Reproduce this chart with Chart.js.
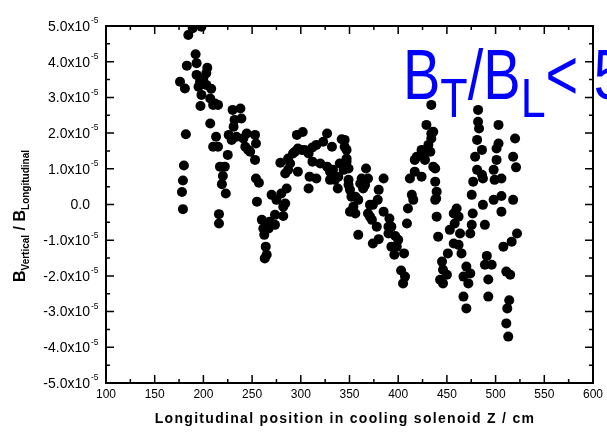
<!DOCTYPE html>
<html>
<head>
<meta charset="utf-8">
<script src="https://cdn.jsdelivr.net/npm/chart.js@4/dist/chart.umd.min.js"></script>
<style>
  html, body { margin: 0; padding: 0; background: #fff; }
  #wrap { width: 607px; height: 433px; }
</style>
</head>
<body>
<div id="wrap"><canvas id="chart" width="607" height="433"></canvas></div>
<script>
// Longitudinal position Z (cm)
const positionZ = [
  176, 181, 183, 184.5, 182, 180, 179, 178, 179,
  189, 198, 192, 193, 204, 193, 196.5, 200, 203, 195, 203, 208, 198, 207, 212, 215, 197, 210, 207, 213, 210,
  215, 230, 238, 232, 239, 231, 226, 229, 234, 241, 244.5, 253, 243, 248, 254, 253, 225, 217, 222, 220, 219, 223, 216, 216, 254, 257, 255, 246,
  260, 261.5, 262.5, 264, 265, 263,
  270, 275, 280, 285.5, 284, 282, 273.5, 282, 268, 267, 273.5,
  279, 284, 289, 292, 297, 287, 296, 301, 308, 308, 309, 287, 297, 302, 294,
  304, 312, 316, 323, 327, 332, 342, 345, 312, 316, 320, 327, 330, 335, 330, 338, 344, 333, 347, 340, 349, 350.5, 347, 349, 338.5,
  345, 347, 349, 350.5, 352, 354, 356, 356, 359, 359, 362.5, 366,
  367, 369, 361, 364, 385, 380, 379, 371, 374, 369, 385, 373, 378, 391, 390, 393, 371, 374, 380, 390, 397, 400, 393, 396, 406, 403, 407, 405, 398.5,
  434, 429, 434, 431, 424, 419, 427.5, 417, 436, 417, 412, 424, 438, 439.5, 438, 414, 415.5, 410, 409, 439.5, 441, 426, 433, 436, 434, 438, 439,
  460, 457, 462, 458, 453, 463.5, 457, 462, 465, 451, 445, 446, 450, 443, 446, 470, 474, 467, 472, 467, 470,
  482, 482, 483, 481, 486, 479, 481, 486, 487, 477, 475.5, 487, 476.5, 475.5, 474, 489, 503, 503, 501, 501, 498, 499, 506, 498, 506, 506,
  520, 518, 521, 518, 522, 516.5, 508, 491, 489, 496, 492.5, 492.5, 511, 515, 514, 512, 511, 513
]

// B_vertical / B_longitudinal, in units of 1e-5
const fieldRatio = [
  3.44, 3.25, 3.89, 4.75, 1.97, 1.09, 0.67, 0.35, -0.13,
  4.94, 4.98, 4.21, 3.96, 3.83, 3.63, 3.44, 3.54, 3.68, 3.30, 3.35, 3.24, 3.07, 2.97, 2.83, 2.79, 2.76, 2.79, 2.27, 1.90, 1.62,
  1.62, 2.65, 2.69, 2.37, 2.41, 2.18, 1.95, 1.81, 1.90, 1.85, 1.99, 1.95, 1.62, 1.48, 1.71, 1.25, 1.39, 1.06, 1.06, 0.80, 0.57, 0.31, -0.27, -0.53, 0.73, 0.61, 0.08, 1.53,
  -0.43, -0.67, -0.85, -1.18, -1.41, -1.51,
  0.27, 0.13, 0.31, 0.45, 0.03, -0.06, -0.29, -0.32, -0.48, -0.67, -0.57,
  1.17, 0.87, 1.15, 1.43, 0.92, 1.29, 1.95, 1.53, 1.43, 0.45, 0.78, 0.97, 1.57, 2.03, 1.48,
  1.53, 1.60, 1.67, 1.76, 1.99, 1.62, 1.83, 1.62, 1.20, 0.73, 1.15, 1.06, 0.92, 0.69, 0.69, 0.45, 0.97, 0.97, 1.20, 1.15, 0.55, -0.20, 1.29, 1.01, 0.78,
  1.81, 1.53, 0.69, 0.41, 0.22, -0.06, -0.25, 0.22, 0.13, -0.85, 0.73, 0.55,
  1.01, 0.73, 0.59, 0.45, 0.73, 0.41, 0.13, -0.01, -0.01, -0.25, -0.20, -0.43, -0.62, -0.39, -0.62, -0.62, -0.34, -1.09, -0.97, -0.81, -0.88, -0.99, -1.18, -1.41, -1.37, -1.85, -2.02, -2.21, -1.18,
  2.79, 2.23, 1.99, 1.67, 1.53, 1.34, 1.25, 1.25, 1.06, 0.92, 0.73, 0.78, 0.64, 0.36, 0.13, 0.27, 0.13, -0.11, -0.53, -0.34, -0.90, 1.43, 1.48, 2.04, 1.85, 1.01, 0.17,
  -0.11, -0.25, -0.34, -0.53, -0.71, -0.81, -1.09, -1.13, -1.37, -1.37, -1.60, -1.83, -1.97, -2.11, -2.21, -1.74, -1.93, -2.02, -2.21, -2.58, -2.91,
  2.65, 2.32, 2.13, 1.81, 1.53, 1.34, 0.97, 0.83, 0.73, 0.64, 0.27, -0.01, -0.25, -0.57, -0.81, -0.57, 2.23, 1.71, 1.57, 1.25, 0.97, 0.69, 0.73, 0.13, 0.24, -0.20,
  1.85, 1.34, 1.04, 0.13, -0.81, -1.04, -1.18, -1.44, -1.69, -1.69, -2.10, -2.58, -1.88, -1.97, -2.68, -2.91, -3.33, -3.70
]

const xTicks = [100, 150, 200, 250, 300, 350, 400, 450, 500, 550, 600]
const yTicks = [-5, -4, -3, -2, -1, 0, 1, 2, 3, 4, 5]

const FONT = '"Liberation Sans", Arial, sans-serif'

// Frame, inward ticks, y labels with exponent, axis titles and the blue note
const decorations = {
    id: 'decorations',
    afterDatasetsDraw(chart) {
        const { ctx, chartArea: a, scales: { x, y } } = chart
        ctx.save()

        // blue annotation  B_T/B_L< 5
        ctx.save()
        ctx.fillStyle = '#0000ff'
        ctx.textBaseline = 'alphabetic'
        ctx.translate(403, 99)
        ctx.scale(0.8, 1)
        let cx = 0
        const parts = [['B', 70, 0], ['T', 56, 18], ['/', 70, 0], ['B', 70, 0], ['L', 56, 18], ['< 5', 70, 0]]
        for (const [t, size, dy] of parts) {
            ctx.font = `${size}px ${FONT}`
            ctx.fillText(t, cx, dy)
            cx += ctx.measureText(t).width
        }
        ctx.restore()

        // frame
        ctx.strokeStyle = '#000'
        ctx.lineWidth = 2
        ctx.strokeRect(a.left, a.top, a.right - a.left, a.bottom - a.top)

        // ticks pointing inward on all four sides
        ctx.lineWidth = 1.5
        ctx.beginPath()
        xTicks.forEach((v, i) => {
            const px = x.getPixelForValue(v)
            ctx.moveTo(px, a.bottom); ctx.lineTo(px, a.bottom - 8)
            ctx.moveTo(px, a.top); ctx.lineTo(px, a.top + 8)
            if (i < xTicks.length - 1) {
                const mx = x.getPixelForValue((v + xTicks[i + 1]) / 2)
                ctx.moveTo(mx, a.bottom); ctx.lineTo(mx, a.bottom - 4)
                ctx.moveTo(mx, a.top); ctx.lineTo(mx, a.top + 4)
            }
        })
        yTicks.forEach((v, i) => {
            const py = y.getPixelForValue(v)
            ctx.moveTo(a.left, py); ctx.lineTo(a.left + 8, py)
            ctx.moveTo(a.right, py); ctx.lineTo(a.right - 8, py)
            if (i < yTicks.length - 1) {
                const my = y.getPixelForValue((v + yTicks[i + 1]) / 2)
                ctx.moveTo(a.left, my); ctx.lineTo(a.left + 4, my)
                ctx.moveTo(a.right, my); ctx.lineTo(a.right - 4, my)
            }
        })
        ctx.stroke()

        // y tick labels like 1.0x10^-5
        ctx.fillStyle = '#000'
        yTicks.forEach(v => {
            const py = y.getPixelForValue(v)
            ctx.textAlign = 'right'
            ctx.textBaseline = 'middle'
            ctx.font = `14px ${FONT}`
            if (v === 0) {
                ctx.fillText('0.0', a.left - 16, py + 1)
                return
            }
            ctx.fillText(v.toFixed(1) + 'x10', a.left - 16, py + 1)
            ctx.textAlign = 'left'
            ctx.font = `8.5px ${FONT}`
            ctx.fillText('-5', a.left - 15, py - 5)
        })

        // x title
        ctx.textAlign = 'center'
        ctx.textBaseline = 'alphabetic'
        ctx.font = `bold 14px ${FONT}`
        ctx.letterSpacing = '1.3px'
        ctx.fillText('Longitudinal position in cooling solenoid Z / cm', 345, 423)
        ctx.letterSpacing = '0px'

        // y title, rotated, with subscripts
        ctx.save()
        ctx.translate(25, 216)
        ctx.rotate(-Math.PI / 2)
        ctx.textAlign = 'left'
        const segs = [['B', 16, 0], ['Vertical', 10, 4], [' / B', 16, 0], ['Longitudinal', 10, 4]]
        let total = 0
        segs.forEach(([t, s]) => { ctx.font = `bold ${s}px ${FONT}`; total += ctx.measureText(t).width })
        let sx = -total / 2
        segs.forEach(([t, s, dy]) => {
            ctx.font = `bold ${s}px ${FONT}`
            ctx.fillText(t, sx, dy)
            sx += ctx.measureText(t).width
        })
        ctx.restore()

        ctx.restore()
    }
}

const ctx = document.getElementById('chart').getContext('2d')

new Chart(ctx, {
    type: 'scatter',
    data: {
        datasets: [{
            data: positionZ.map((z, i) => ({ x: z, y: fieldRatio[i] })),
            backgroundColor: '#000',
            borderWidth: 0,
            pointRadius: 5,
            pointHoverRadius: 5,
            clip: 0
        }]
    },
    options: {
        responsive: false,
        devicePixelRatio: 1,
        animation: false,
        layout: { padding: { left: 0, right: 14, top: 26, bottom: 0 } },
        plugins: {
            legend: { display: false },
            tooltip: { enabled: false }
        },
        scales: {
            x: {
                type: 'linear',
                min: 100,
                max: 600,
                afterFit: (scale) => { scale.height = 50 },
                afterBuildTicks: (scale) => { scale.ticks = xTicks.map(v => ({ value: v })) },
                grid: { display: false, drawTicks: false },
                border: { display: false },
                ticks: {
                    color: '#000',
                    padding: 4,
                    maxRotation: 0,
                    font: { family: FONT, size: 12 }
                }
            },
            y: {
                type: 'linear',
                min: -5,
                max: 5,
                afterFit: (scale) => { scale.width = 106 },
                grid: { display: false, drawTicks: false },
                border: { display: false },
                ticks: { display: false, stepSize: 1 }
            }
        }
    },
    plugins: [decorations]
})
</script>
</body>
</html>
